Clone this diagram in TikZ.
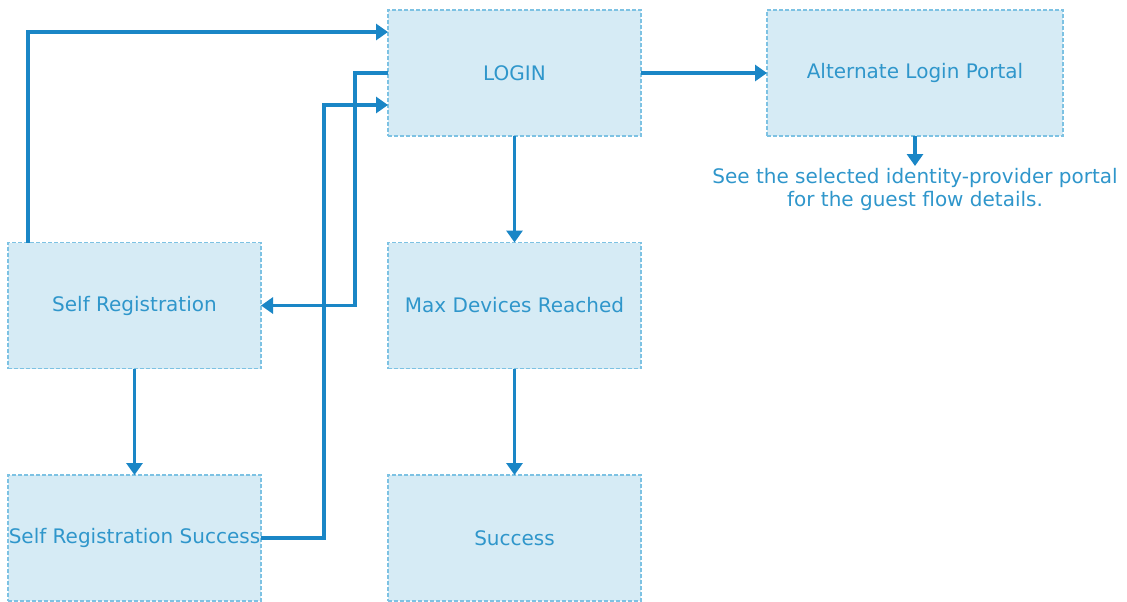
\documentclass[tikz,border=0pt]{standalone}
\usepackage{fontspec}
\setmainfont{DejaVu Sans}
\usetikzlibrary{arrows.meta}

\definecolor{boxfill}{HTML}{D6EBF5}
\definecolor{boxline}{HTML}{7DC2E3}
\definecolor{boxtext}{HTML}{2F96CB}
\definecolor{flowcol}{HTML}{1A86C6}

\tikzset{
	stage/.style={draw=boxline, fill=boxfill, dashed, dash pattern=on 2pt off 1pt, line width=0.6pt,
		minimum width=126.5pt, minimum height=63pt, inner sep=0pt, outer sep=0pt,
		text=boxtext, font=\fontsize{10}{12}\selectfont},
	flow/.style={draw=flowcol, line width=1.8pt, -{Triangle[length=6pt,width=8pt]}},
	note/.style={text=boxtext, align=center, inner sep=0pt, font=\fontsize{10}{11.5}\selectfont}
}

\begin{document}
\begin{tikzpicture}[x=0.5pt,y=-0.5pt]
			\useasboundingbox (0,0) rectangle (1127,601);
			% boxes
			\node[stage] (login) at (514.5,73) {LOGIN};
			\node[stage, minimum width=148pt] (alt) at (915,73) {Alternate Login Portal};
			\node[stage] (selfreg) at (134.5,305.5) {Self Registration};
			\node[stage] (maxdev) at (514.5,305.5) {Max Devices Reached};
			\node[stage] (selfregok) at (134.5,538) {Self Registration Success};
			\node[stage] (success) at (514.5,538) {Success};
			\node[note, anchor=north] (altnote) at (915,168) {See the selected identity-provider portal\\for the guest flow details.};
			% straight links
			\draw[flow] (login) -- (maxdev);
			\draw[flow] (maxdev) -- (success);
			\draw[flow] (selfreg) -- (selfregok);
			\draw[flow] (login) -- (alt);
			\draw[flow] (alt.south) -- ([yshift=1pt]altnote.north);
			% elbow links
			\draw[flow] ([xshift=10pt]selfreg.north west) |- ([yshift=20.5pt]login.west);
			\draw[flow] (login.west) -- ++(-33,0) |- (selfreg.east);
			\draw[flow] (selfregok.east) -- ++(63,0) |- ([yshift=-16pt]login.west);
		\end{tikzpicture}
\end{document}
